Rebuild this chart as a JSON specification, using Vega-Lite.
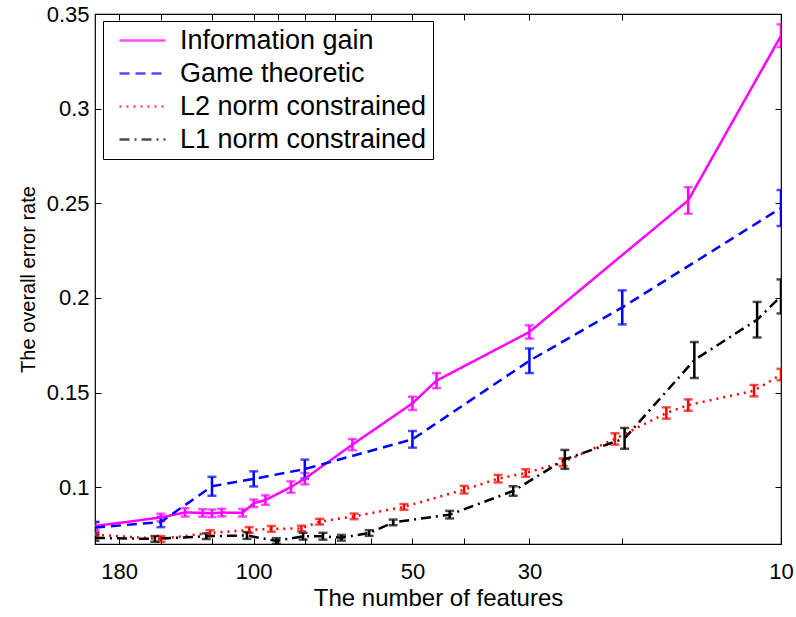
{
  "$schema": "https://vega.github.io/schema/vega-lite/v6.json",
  "width": 686,
  "height": 530,
  "autosize": {"type": "none"},
  "padding": {"left": 95, "top": 14, "right": 15, "bottom": 73},
  "background": "white",
  "config": {
    "view": {"stroke": "black", "strokeWidth": 1.2},
    "font": "Liberation Sans",
    "axis": {
      "domain": false,
      "grid": false,
      "tickColor": "black",
      "tickSize": -6,
      "tickWidth": 1,
      "labelColor": "black",
      "labelFontSize": 22,
      "labelFont": "Liberation Sans",
      "titleFont": "Liberation Sans",
      "titleColor": "black",
      "titleFontWeight": "normal",
      "labelFlush": false,
      "labelOverlap": false,
      "labelBound": false
    },
    "legend": {
      "orient": "none", "legendX": 8, "legendY": 7, "title": null,
      "labelFontSize": 27, "labelColor": "black", "labelFont": "Liberation Sans", "labelLimit": 500,
      "symbolType": "M-2.3,0H2.3", "symbolSize": 400, "symbolStrokeWidth": 2.5,
      "strokeColor": "black", "fillColor": "white", "padding": 6,
      "rowPadding": 5, "labelOffset": 24, "symbolOffset": 20
    }
  },
  "data": {
    "values": [
      {"method": "Information gain", "n": 200, "err": 0.0795, "sd": 0.002},
      {"method": "Information gain", "n": 150, "err": 0.0840, "sd": 0.002},
      {"method": "Information gain", "n": 135, "err": 0.0867, "sd": 0.0022},
      {"method": "Information gain", "n": 125, "err": 0.0864, "sd": 0.002},
      {"method": "Information gain", "n": 120, "err": 0.0862, "sd": 0.002},
      {"method": "Information gain", "n": 115, "err": 0.0866, "sd": 0.002},
      {"method": "Information gain", "n": 105, "err": 0.0865, "sd": 0.002},
      {"method": "Information gain", "n": 100, "err": 0.0915, "sd": 0.002},
      {"method": "Information gain", "n": 95, "err": 0.0932, "sd": 0.0025},
      {"method": "Information gain", "n": 85, "err": 0.1001, "sd": 0.003},
      {"method": "Information gain", "n": 80, "err": 0.1045, "sd": 0.003},
      {"method": "Information gain", "n": 65, "err": 0.1225, "sd": 0.003},
      {"method": "Information gain", "n": 50, "err": 0.1443, "sd": 0.0035},
      {"method": "Information gain", "n": 45, "err": 0.1563, "sd": 0.004},
      {"method": "Information gain", "n": 30, "err": 0.1820, "sd": 0.0035},
      {"method": "Information gain", "n": 15, "err": 0.2515, "sd": 0.007},
      {"method": "Information gain", "n": 10, "err": 0.3385, "sd": 0.006},

      {"method": "Game theoretic", "n": 200, "err": 0.0787, "sd": 0.003},
      {"method": "Game theoretic", "n": 150, "err": 0.0816, "sd": 0.0027},
      {"method": "Game theoretic", "n": 120, "err": 0.1005, "sd": 0.005},
      {"method": "Game theoretic", "n": 100, "err": 0.1044, "sd": 0.004},
      {"method": "Game theoretic", "n": 80, "err": 0.1096, "sd": 0.005},
      {"method": "Game theoretic", "n": 50, "err": 0.1253, "sd": 0.0044},
      {"method": "Game theoretic", "n": 30, "err": 0.1668, "sd": 0.0065},
      {"method": "Game theoretic", "n": 20, "err": 0.1950, "sd": 0.009},
      {"method": "Game theoretic", "n": 10, "err": 0.2475, "sd": 0.0095},

      {"method": "L2 norm constrained", "n": 200, "err": 0.0749, "sd": 0.0015},
      {"method": "L2 norm constrained", "n": 150, "err": 0.0727, "sd": 0.0015},
      {"method": "L2 norm constrained", "n": 121, "err": 0.0758, "sd": 0.0015},
      {"method": "L2 norm constrained", "n": 102, "err": 0.0774, "sd": 0.0015},
      {"method": "L2 norm constrained", "n": 92.6, "err": 0.0780, "sd": 0.0015},
      {"method": "L2 norm constrained", "n": 81.2, "err": 0.0782, "sd": 0.0015},
      {"method": "L2 norm constrained", "n": 75, "err": 0.0818, "sd": 0.0015},
      {"method": "L2 norm constrained", "n": 64.5, "err": 0.0846, "sd": 0.0015},
      {"method": "L2 norm constrained", "n": 51.9, "err": 0.0896, "sd": 0.0015},
      {"method": "L2 norm constrained", "n": 39.9, "err": 0.0987, "sd": 0.002},
      {"method": "L2 norm constrained", "n": 34.4, "err": 0.1045, "sd": 0.002},
      {"method": "L2 norm constrained", "n": 30.5, "err": 0.1075, "sd": 0.002},
      {"method": "L2 norm constrained", "n": 25.9, "err": 0.1132, "sd": 0.002},
      {"method": "L2 norm constrained", "n": 20.65, "err": 0.1255, "sd": 0.003},
      {"method": "L2 norm constrained", "n": 16.5, "err": 0.1392, "sd": 0.003},
      {"method": "L2 norm constrained", "n": 15, "err": 0.1434, "sd": 0.003},
      {"method": "L2 norm constrained", "n": 11.25, "err": 0.1510, "sd": 0.003},
      {"method": "L2 norm constrained", "n": 10, "err": 0.1595, "sd": 0.003},

      {"method": "L1 norm constrained", "n": 200, "err": 0.0732, "sd": 0.0015},
      {"method": "L1 norm constrained", "n": 154, "err": 0.0727, "sd": 0.0015},
      {"method": "L1 norm constrained", "n": 123, "err": 0.0741, "sd": 0.0015},
      {"method": "L1 norm constrained", "n": 103, "err": 0.0745, "sd": 0.0018},
      {"method": "L1 norm constrained", "n": 90.6, "err": 0.0716, "sd": 0.0015},
      {"method": "L1 norm constrained", "n": 80.6, "err": 0.0741, "sd": 0.0018},
      {"method": "L1 norm constrained", "n": 73.9, "err": 0.0741, "sd": 0.0018},
      {"method": "L1 norm constrained", "n": 68.2, "err": 0.0733, "sd": 0.0015},
      {"method": "L1 norm constrained", "n": 60.4, "err": 0.0758, "sd": 0.0015},
      {"method": "L1 norm constrained", "n": 54.4, "err": 0.0814, "sd": 0.0015},
      {"method": "L1 norm constrained", "n": 42.5, "err": 0.0855, "sd": 0.002},
      {"method": "L1 norm constrained", "n": 32.2, "err": 0.0980, "sd": 0.0025},
      {"method": "L1 norm constrained", "n": 25.7, "err": 0.1147, "sd": 0.005},
      {"method": "L1 norm constrained", "n": 19.8, "err": 0.1258, "sd": 0.0055},
      {"method": "L1 norm constrained", "n": 14.6, "err": 0.1672, "sd": 0.0095},
      {"method": "L1 norm constrained", "n": 11.1, "err": 0.1885, "sd": 0.0094},
      {"method": "L1 norm constrained", "n": 10, "err": 0.2008, "sd": 0.009}
    ]
  },
  "layer": [
    {
      "mark": {"type": "errorbar", "ticks": {"size": 9, "thickness": 2.5}, "thickness": 2.5, "clip": true},
      "encoding": {
        "x": {
          "field": "n", "type": "quantitative",
          "scale": {"type": "log", "domain": [10, 200], "reverse": true, "nice": false},
          "axis": {"orient": "top", "labels": false, "title": null, "values": [180, 150, 120, 100, 90, 80, 70, 60, 50, 40, 30, 20, 10]}
        },
        "y": {
          "field": "err", "type": "quantitative",
          "scale": {"domain": [0.07, 0.35], "nice": false, "zero": false},
          "axis": {"orient": "right", "labels": false, "title": null, "values": [0.1, 0.15, 0.2, 0.25, 0.3, 0.35]}
        },
        "yError": {"field": "sd"},
        "color": {
          "field": "method", "type": "nominal",
          "scale": {"domain": ["Information gain", "Game theoretic", "L2 norm constrained", "L1 norm constrained"], "range": ["#ff00ff", "#0000ff", "#ff0000", "#000000"]}
        }
      }
    },
    {
      "mark": {"type": "line", "clip": true, "strokeWidth": 2.5},
      "encoding": {
        "x": {
          "field": "n", "type": "quantitative",
          "scale": {"type": "log", "domain": [10, 200], "reverse": true, "nice": false},
          "axis": {
            "orient": "bottom",
            "values": [180, 150, 120, 100, 90, 80, 70, 60, 50, 40, 30, 20, 10],
            "labelExpr": "indexof([180, 100, 50, 30, 10], datum.value) >= 0 ? format(datum.value, 'd') : ''",
            "labelPadding": 23,
            "title": "The number of features",
            "titleFontSize": 24,
            "titlePadding": 4
          }
        },
        "y": {
          "field": "err", "type": "quantitative",
          "scale": {"domain": [0.07, 0.35], "nice": false, "zero": false},
          "axis": {
            "orient": "left",
            "values": [0.1, 0.15, 0.2, 0.25, 0.3, 0.35],
            "format": ".2~f",
            "labelPadding": 12,
            "title": "The overall error rate",
            "titleFontSize": 20,
            "titlePadding": 8
          }
        },
        "color": {
          "field": "method", "type": "nominal",
          "scale": {"domain": ["Information gain", "Game theoretic", "L2 norm constrained", "L1 norm constrained"], "range": ["#ff00ff", "#0000ff", "#ff0000", "#000000"]}
        },
        "strokeDash": {
          "field": "method", "type": "nominal",
          "scale": {"domain": ["Information gain", "Game theoretic", "L2 norm constrained", "L1 norm constrained"], "range": [[1, 0], [10, 6], [2, 5], [10, 5, 2, 5]]}
        }
      }
    }
  ],
  "resolve": {"axis": {"x": "independent", "y": "independent"}}
}
